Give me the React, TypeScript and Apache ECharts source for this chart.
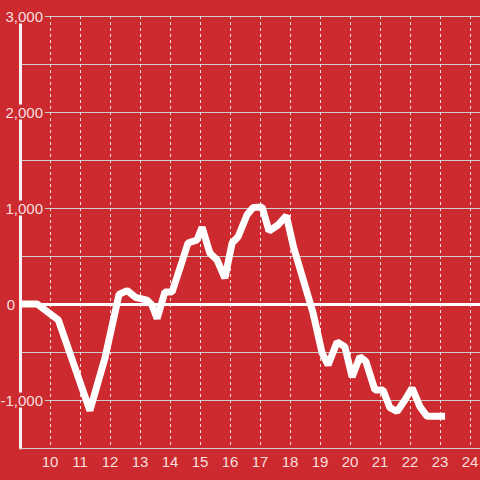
import React, { useEffect, useRef } from "react";
import * as echarts from "echarts";

const BG = "#cc2a2f";
const TEXT = "rgba(255,255,255,0.86)";

const times = [9, 9.57, 10.28, 11.33, 11.83, 12.3, 12.57, 12.85, 13.23, 13.4, 13.57, 13.83, 14.07, 14.4, 14.6, 14.9, 15.07, 15.33, 15.57, 15.83, 16.07, 16.27, 16.57, 16.77, 17.07, 17.3, 17.6, 17.88, 18.12, 18.77, 19.07, 19.27, 19.57, 19.83, 20.07, 20.33, 20.53, 20.83, 21.1, 21.33, 21.57, 21.83, 22.07, 22.33, 22.57, 23.17];
const values = [0, 0, -167, -1110, -565, 100, 140, 70, 40, -10, -150, 125, 125, 440, 635, 667, 800, 530, 458, 270, 635, 700, 930, 1005, 1010, 760, 823, 920, 590, -95, -510, -635, -395, -445, -760, -550, -600, -895, -895, -1080, -1120, -1000, -875, -1070, -1170, -1170];

const yLabelValues = [-1000, 0, 1000, 2000, 3000];
const xLabelValues = [10, 11, 12, 13, 14, 15, 16, 17, 18, 19, 20, 21, 22, 23, 24];

export default function App() {
  const ref = useRef<HTMLDivElement>(null);
  useEffect(() => {
    if (!ref.current) return;
    const chart = echarts.init(ref.current, null, { renderer: "svg" });
    const font = "'Liberation Sans', Arial, sans-serif";
    chart.setOption({
      animation: false,
      backgroundColor: BG,
      grid: {
        left: 20,
        right: 0,
        top: 16,
        bottom: 32,
        containLabel: false,
        outerBoundsMode: "none",
      },
      xAxis: {
        type: "value",
        min: 9,
        max: 9 + 460 / 30,
        interval: 1,
        axisLine: { show: true, onZero: false, lineStyle: { color: "#cfcfcf", width: 1 } },
        axisTick: { show: false },
        axisLabel: {
          color: TEXT,
          fontSize: 15,
          fontFamily: font,
          margin: 6,
          showMaxLabel: false,
          formatter: (v: number) => (xLabelValues.includes(v) ? String(v) : ""),
        },
        splitLine: {
          show: true,
          lineStyle: { color: "rgba(255,255,255,0.85)", width: 1, type: [3, 3] },
        },
      },
      yAxis: {
        type: "value",
        min: -1500,
        max: 3000,
        interval: 500,
        axisLine: { show: true, lineStyle: { color: "#f4f4f4", width: 3 } },
        axisTick: { show: false },
        axisLabel: {
          margin: -25,
          color: TEXT,
          fontSize: 15,
          fontFamily: font,
          formatter: (v: number) => {
            if (!yLabelValues.includes(v)) return "";
            if (v === 0) return "{z|0}";
            return "{a|" + v.toLocaleString("en-US") + "}";
          },
          rich: {
            a: {
              backgroundColor: BG,
              padding: [0, 2, 0, 1],
              color: TEXT,
              fontSize: 15,
              fontFamily: font,
            },
            z: {
              padding: [0, 30, 0, 0],
              color: TEXT,
              fontSize: 15,
              fontFamily: font,
            },
          },
        },
        splitLine: { show: true, lineStyle: { color: "#cdcdcd", width: 1 } },
      },
      series: [
        {
          type: "line",
          data: times.map((t, i) => [t, values[i]]),
          showSymbol: false,
          lineStyle: { color: "#ffffff", width: 7 },
          markLine: {
            silent: true,
            symbol: ["none", "none"],
            label: { show: false },
            lineStyle: { color: "#ffffff", width: 3, type: "solid" },
            data: [{ yAxis: 0 }],
          },
        },
      ],
    });
    return () => chart.dispose();
  }, []);
  return (
    <div
      ref={ref}
      style={{ position: "fixed", left: 0, top: 0, width: 480, height: 480 }}
    />
  );
}
